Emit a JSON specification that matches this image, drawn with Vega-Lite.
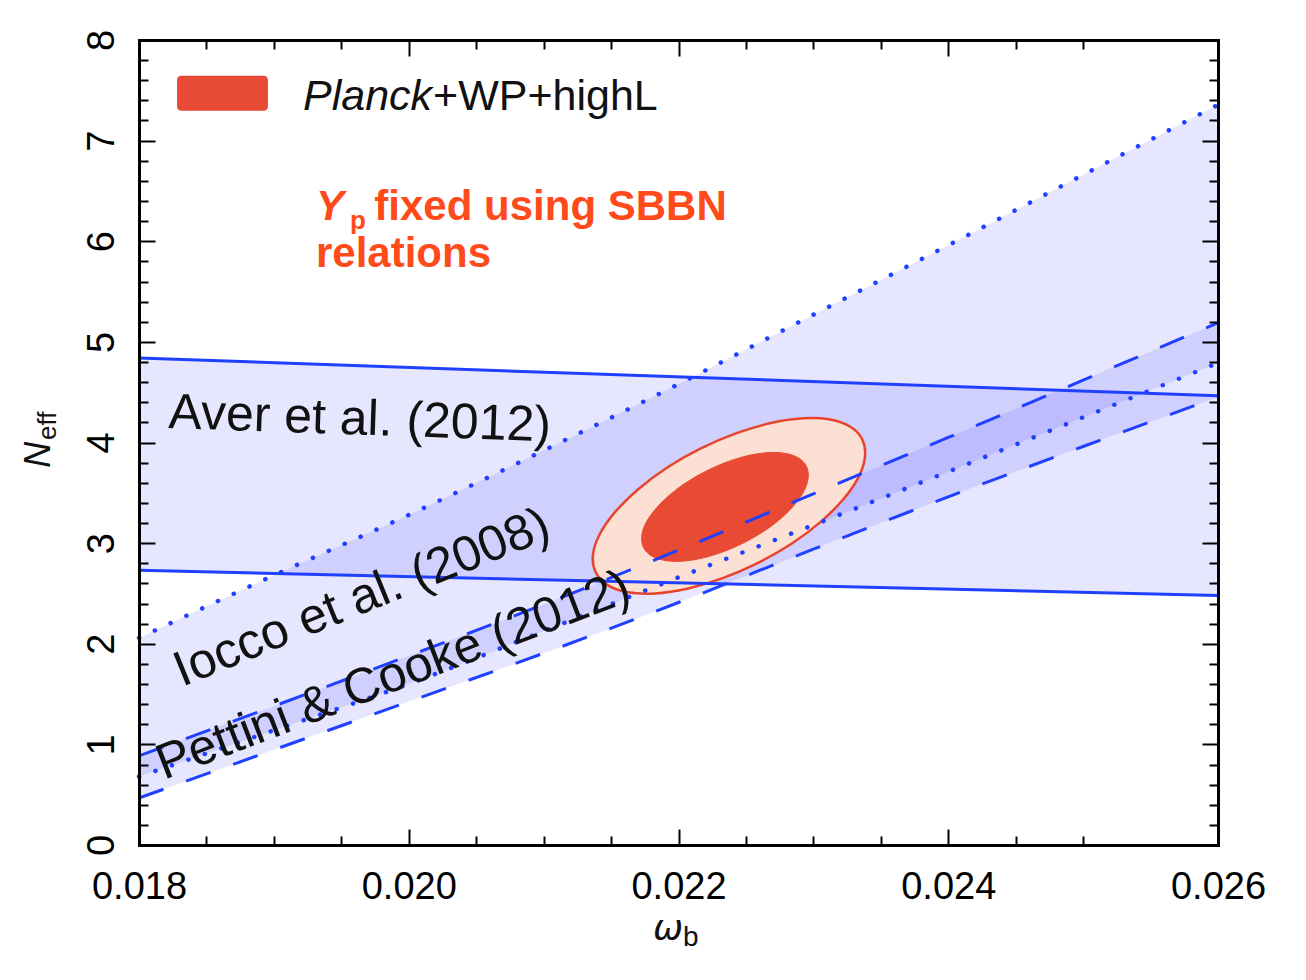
{
  "$schema": "https://vega.github.io/schema/vega-lite/v6.json",
  "width": 1079,
  "height": 805,
  "autosize": {"type": "none"},
  "padding": {"left": 139, "top": 40, "right": 88, "bottom": 135},
  "background": "white",
  "config": {"view": {"stroke": null}},
  "datasets": {
    "aver": [
      {"x": 0.018, "lo": 2.73, "hi": 4.84},
      {"x": 0.026, "lo": 2.48, "hi": 4.465}
    ],
    "iocco": [
      {"x": 0.018, "lo": 0.68, "hi": 2.058},
      {"x": 0.019, "lo": 1.14, "hi": 2.68},
      {"x": 0.020, "lo": 1.60, "hi": 3.28},
      {"x": 0.021, "lo": 2.125, "hi": 3.92},
      {"x": 0.022, "lo": 2.66, "hi": 4.58},
      {"x": 0.023, "lo": 3.18, "hi": 5.27},
      {"x": 0.024, "lo": 3.71, "hi": 5.96},
      {"x": 0.025, "lo": 4.25, "hi": 6.66},
      {"x": 0.026, "lo": 4.79, "hi": 7.356}
    ],
    "pettini": [
      {"x": 0.018, "lo": 0.467, "hi": 0.885},
      {"x": 0.019, "lo": 0.946, "hi": 1.38},
      {"x": 0.020, "lo": 1.425, "hi": 1.88},
      {"x": 0.021, "lo": 1.906, "hi": 2.39},
      {"x": 0.022, "lo": 2.41, "hi": 2.93},
      {"x": 0.023, "lo": 2.94, "hi": 3.49},
      {"x": 0.024, "lo": 3.46, "hi": 4.05},
      {"x": 0.025, "lo": 3.96, "hi": 4.62},
      {"x": 0.026, "lo": 4.453, "hi": 5.19}
    ],
    "outer": [
      {"i": 0, "x": 0.023362, "y": 4.032},
      {"i": 1, "x": 0.023383, "y": 3.862},
      {"i": 2, "x": 0.023336, "y": 3.659},
      {"i": 3, "x": 0.023222, "y": 3.436},
      {"i": 4, "x": 0.023052, "y": 3.209},
      {"i": 5, "x": 0.022835, "y": 2.991},
      {"i": 6, "x": 0.022586, "y": 2.801},
      {"i": 7, "x": 0.022323, "y": 2.649},
      {"i": 8, "x": 0.022064, "y": 2.547},
      {"i": 9, "x": 0.021826, "y": 2.500},
      {"i": 10, "x": 0.021625, "y": 2.512},
      {"i": 11, "x": 0.021475, "y": 2.583},
      {"i": 12, "x": 0.021387, "y": 2.708},
      {"i": 13, "x": 0.021365, "y": 2.878},
      {"i": 14, "x": 0.021413, "y": 3.081},
      {"i": 15, "x": 0.021526, "y": 3.303},
      {"i": 16, "x": 0.021697, "y": 3.531},
      {"i": 17, "x": 0.021914, "y": 3.749},
      {"i": 18, "x": 0.022162, "y": 3.938},
      {"i": 19, "x": 0.022425, "y": 4.090},
      {"i": 20, "x": 0.022684, "y": 4.193},
      {"i": 21, "x": 0.022923, "y": 4.240},
      {"i": 22, "x": 0.023124, "y": 4.228},
      {"i": 23, "x": 0.023274, "y": 4.156}
    ],
    "inner": [
      {"i": 0, "x": 0.022948, "y": 3.764},
      {"i": 1, "x": 0.022962, "y": 3.657},
      {"i": 2, "x": 0.022935, "y": 3.530},
      {"i": 3, "x": 0.022867, "y": 3.392},
      {"i": 4, "x": 0.022763, "y": 3.250},
      {"i": 5, "x": 0.022631, "y": 3.116},
      {"i": 6, "x": 0.022479, "y": 3.000},
      {"i": 7, "x": 0.022318, "y": 2.908},
      {"i": 8, "x": 0.022159, "y": 2.846},
      {"i": 9, "x": 0.022012, "y": 2.819},
      {"i": 10, "x": 0.021889, "y": 2.830},
      {"i": 11, "x": 0.021797, "y": 2.876},
      {"i": 12, "x": 0.021741, "y": 2.955},
      {"i": 13, "x": 0.021727, "y": 3.063},
      {"i": 14, "x": 0.021754, "y": 3.190},
      {"i": 15, "x": 0.021823, "y": 3.328},
      {"i": 16, "x": 0.021926, "y": 3.469},
      {"i": 17, "x": 0.022058, "y": 3.603},
      {"i": 18, "x": 0.022210, "y": 3.720},
      {"i": 19, "x": 0.022371, "y": 3.812},
      {"i": 20, "x": 0.022530, "y": 3.874},
      {"i": 21, "x": 0.022677, "y": 3.901},
      {"i": 22, "x": 0.022800, "y": 3.890},
      {"i": 23, "x": 0.022893, "y": 3.844}
    ]
  },
  "resolve": {"axis": {"x": "independent", "y": "independent"}},
  "layer": [
    {
      "data": {"name": "aver"},
      "mark": {"type": "area", "fill": "#3333ff", "fillOpacity": 0.12},
      "encoding": {
        "x": {"field": "x", "type": "quantitative", "scale": {"domain": [0.018, 0.026], "nice": false, "zero": false},
          "axis": {"orient": "bottom", "values": [0.018, 0.020, 0.022, 0.024, 0.026], "format": ".3f", "title": null, "grid": false,
            "domain": true, "domainColor": "#000000", "domainWidth": 3, "domainCap": "square",
            "ticks": true, "tickColor": "#000000", "tickWidth": 2, "tickSize": -16,
            "labels": true, "labelFont": "Liberation Sans", "labelFontSize": 38, "labelColor": "#000000", "labelPadding": 39,
            "labelFlush": false, "labelOverlap": false, "labelAlign": "center", "labelBaseline": "top", "zindex": 1}},
        "y": {"field": "hi", "type": "quantitative", "scale": {"domain": [0, 8], "nice": false, "zero": false},
          "axis": {"orient": "left", "values": [0, 1, 2, 3, 4, 5, 6, 7, 8], "format": "d", "title": null, "grid": false,
            "domain": true, "domainColor": "#000000", "domainWidth": 3, "domainCap": "square",
            "ticks": true, "tickColor": "#000000", "tickWidth": 2, "tickSize": -16,
            "labels": true, "labelFont": "Liberation Sans", "labelFontSize": 38, "labelColor": "#000000", "labelPadding": 42,
            "labelAngle": 270, "labelFlush": false, "labelOverlap": false, "labelAlign": "center", "labelBaseline": "alphabetic", "zindex": 1}},
        "y2": {"field": "lo"}
      }
    },
    {
      "data": {"name": "iocco"},
      "mark": {"type": "area", "fill": "#3333ff", "fillOpacity": 0.12, "interpolate": "monotone"},
      "encoding": {
        "x": {"field": "x", "type": "quantitative", "scale": {"domain": [0.018, 0.026], "nice": false, "zero": false},
          "axis": {"orient": "top", "values": [0.018, 0.020, 0.022, 0.024, 0.026], "title": null, "grid": false,
            "domain": true, "domainColor": "#000000", "domainWidth": 3, "domainCap": "square",
            "ticks": true, "tickColor": "#000000", "tickWidth": 2, "tickSize": -16, "labels": false, "zindex": 1}},
        "y": {"field": "hi", "type": "quantitative", "scale": {"domain": [0, 8], "nice": false, "zero": false},
          "axis": {"orient": "right", "values": [0, 1, 2, 3, 4, 5, 6, 7, 8], "title": null, "grid": false,
            "domain": true, "domainColor": "#000000", "domainWidth": 3, "domainCap": "square",
            "ticks": true, "tickColor": "#000000", "tickWidth": 2, "tickSize": -16, "labels": false, "zindex": 1}},
        "y2": {"field": "lo"}
      }
    },
    {
      "data": {"name": "pettini"},
      "mark": {"type": "area", "fill": "#3333ff", "fillOpacity": 0.12, "interpolate": "monotone"},
      "encoding": {
        "x": {"field": "x", "type": "quantitative", "scale": {"domain": [0.018, 0.026], "nice": false, "zero": false},
          "axis": {"orient": "bottom", "values": [0.0185, 0.019, 0.0195, 0.0205, 0.021, 0.0215, 0.0225, 0.023, 0.0235, 0.0245, 0.025], "title": null, "grid": false,
            "domain": false, "ticks": true, "tickColor": "#000000", "tickWidth": 2, "tickSize": -9, "labels": false, "zindex": 1}},
        "y": {"field": "hi", "type": "quantitative", "scale": {"domain": [0, 8], "nice": false, "zero": false},
          "axis": {"orient": "left", "values": [0.2, 0.4, 0.6, 0.8, 1.2, 1.4, 1.6, 1.8, 2.2, 2.4, 2.6, 2.8, 3.2, 3.4, 3.6, 3.8, 4.2, 4.4, 4.6, 4.8, 5.2, 5.4, 5.6, 5.8, 6.2, 6.4, 6.6, 6.8, 7.2, 7.4, 7.6, 7.8], "title": null, "grid": false,
            "domain": false, "ticks": true, "tickColor": "#000000", "tickWidth": 2, "tickSize": -9, "labels": false, "zindex": 1}},
        "y2": {"field": "lo"}
      }
    },
    {
      "data": {"name": "outer"},
      "mark": {"type": "line", "interpolate": "cardinal-closed", "fill": "#fde0d4", "stroke": "#e8442c", "strokeWidth": 2.5},
      "encoding": {
        "x": {"field": "x", "type": "quantitative", "scale": {"domain": [0.018, 0.026], "nice": false, "zero": false},
          "axis": {"orient": "top", "values": [0.0185, 0.019, 0.0195, 0.0205, 0.021, 0.0215, 0.0225, 0.023, 0.0235, 0.0245, 0.025], "title": null, "grid": false,
            "domain": false, "ticks": true, "tickColor": "#000000", "tickWidth": 2, "tickSize": -9, "labels": false, "zindex": 1}},
        "y": {"field": "y", "type": "quantitative", "scale": {"domain": [0, 8], "nice": false, "zero": false},
          "axis": {"orient": "right", "values": [0.2, 0.4, 0.6, 0.8, 1.2, 1.4, 1.6, 1.8, 2.2, 2.4, 2.6, 2.8, 3.2, 3.4, 3.6, 3.8, 4.2, 4.4, 4.6, 4.8, 5.2, 5.4, 5.6, 5.8, 6.2, 6.4, 6.6, 6.8, 7.2, 7.4, 7.6, 7.8], "title": null, "grid": false,
            "domain": false, "ticks": true, "tickColor": "#000000", "tickWidth": 2, "tickSize": -9, "labels": false, "zindex": 1}},
        "order": {"field": "i", "type": "quantitative"}
      }
    },
    {
      "data": {"name": "inner"},
      "mark": {"type": "line", "interpolate": "cardinal-closed", "fill": "#e84a33", "stroke": "#e84a33", "strokeWidth": 1},
      "encoding": {
        "x": {"field": "x", "type": "quantitative", "scale": {"domain": [0.018, 0.026], "nice": false, "zero": false}, "axis": null},
        "y": {"field": "y", "type": "quantitative", "scale": {"domain": [0, 8], "nice": false, "zero": false}, "axis": null},
        "order": {"field": "i", "type": "quantitative"}
      }
    },
    {
      "data": {"name": "aver"},
      "transform": [{"fold": ["lo", "hi"], "as": ["edge", "v"]}],
      "mark": {"type": "line", "stroke": "#2040ff", "strokeWidth": 3},
      "encoding": {
        "x": {"field": "x", "type": "quantitative", "scale": {"domain": [0.018, 0.026], "nice": false, "zero": false}, "axis": null},
        "y": {"field": "v", "type": "quantitative", "scale": {"domain": [0, 8], "nice": false, "zero": false}, "axis": null},
        "detail": {"field": "edge"}
      }
    },
    {
      "data": {"name": "iocco"},
      "transform": [{"fold": ["lo", "hi"], "as": ["edge", "v"]}],
      "mark": {"type": "line", "stroke": "#2040ff", "strokeWidth": 4.5, "strokeCap": "round", "strokeDash": [0.1, 17.3], "interpolate": "monotone"},
      "encoding": {
        "x": {"field": "x", "type": "quantitative", "scale": {"domain": [0.018, 0.026], "nice": false, "zero": false}, "axis": null},
        "y": {"field": "v", "type": "quantitative", "scale": {"domain": [0, 8], "nice": false, "zero": false}, "axis": null},
        "detail": {"field": "edge"}
      }
    },
    {
      "data": {"name": "pettini"},
      "transform": [{"fold": ["lo", "hi"], "as": ["edge", "v"]}],
      "mark": {"type": "line", "stroke": "#2040ff", "strokeWidth": 3, "strokeDash": [26, 24], "interpolate": "monotone"},
      "encoding": {
        "x": {"field": "x", "type": "quantitative", "scale": {"domain": [0.018, 0.026], "nice": false, "zero": false}, "axis": null},
        "y": {"field": "v", "type": "quantitative", "scale": {"domain": [0, 8], "nice": false, "zero": false}, "axis": null},
        "detail": {"field": "edge"}
      }
    },
    {
      "data": {"values": [{"x": 0.018282, "x2": 0.018956, "y": 7.296, "y2": 7.644}]},
      "mark": {"type": "rect", "fill": "#e84b35", "cornerRadius": 4},
      "encoding": {
        "x": {"field": "x", "type": "quantitative", "scale": {"domain": [0.018, 0.026], "nice": false, "zero": false}, "axis": null},
        "x2": {"field": "x2"},
        "y": {"field": "y", "type": "quantitative", "scale": {"domain": [0, 8], "nice": false, "zero": false}, "axis": null},
        "y2": {"field": "y2"}
      }
    },
    {
      "data": {"values": [
        {"x": 0.019216, "y": 7.30, "t": "Planck"}
      ]},
      "mark": {"type": "text", "font": "Liberation Sans", "fontSize": 43, "fontStyle": "italic", "align": "left", "baseline": "alphabetic", "color": "#111111"},
      "encoding": {
        "x": {"field": "x", "type": "quantitative", "scale": {"domain": [0.018, 0.026], "nice": false, "zero": false}, "axis": null},
        "y": {"field": "y", "type": "quantitative", "scale": {"domain": [0, 8], "nice": false, "zero": false}, "axis": null},
        "text": {"field": "t"}
      }
    },
    {
      "data": {"values": [
        {"x": 0.02018, "y": 7.30, "t": "+WP+highL"}
      ]},
      "mark": {"type": "text", "font": "Liberation Sans", "fontSize": 43, "align": "left", "baseline": "alphabetic", "color": "#111111"},
      "encoding": {
        "x": {"field": "x", "type": "quantitative", "scale": {"domain": [0.018, 0.026], "nice": false, "zero": false}, "axis": null},
        "y": {"field": "y", "type": "quantitative", "scale": {"domain": [0, 8], "nice": false, "zero": false}, "axis": null},
        "text": {"field": "t"}
      }
    },
    {
      "data": {"values": [{"x": 0.019312, "y": 6.213, "t": "Y"}]},
      "mark": {"type": "text", "font": "Liberation Sans", "fontSize": 42, "fontWeight": "bold", "fontStyle": "italic", "align": "left", "baseline": "alphabetic", "color": "#ff4a1a"},
      "encoding": {
        "x": {"field": "x", "type": "quantitative", "scale": {"domain": [0.018, 0.026], "nice": false, "zero": false}, "axis": null},
        "y": {"field": "y", "type": "quantitative", "scale": {"domain": [0, 8], "nice": false, "zero": false}, "axis": null},
        "text": {"field": "t"}
      }
    },
    {
      "data": {"values": [{"x": 0.019565, "y": 6.12, "t": "p"}]},
      "mark": {"type": "text", "font": "Liberation Sans", "fontSize": 26, "fontWeight": "bold", "align": "left", "baseline": "alphabetic", "color": "#ff4a1a"},
      "encoding": {
        "x": {"field": "x", "type": "quantitative", "scale": {"domain": [0.018, 0.026], "nice": false, "zero": false}, "axis": null},
        "y": {"field": "y", "type": "quantitative", "scale": {"domain": [0, 8], "nice": false, "zero": false}, "axis": null},
        "text": {"field": "t"}
      }
    },
    {
      "data": {"values": [
        {"x": 0.019745, "y": 6.213, "t": "fixed using SBBN"},
        {"x": 0.019312, "y": 5.746, "t": "relations"}
      ]},
      "mark": {"type": "text", "font": "Liberation Sans", "fontSize": 42, "fontWeight": "bold", "align": "left", "baseline": "alphabetic", "color": "#ff4a1a"},
      "encoding": {
        "x": {"field": "x", "type": "quantitative", "scale": {"domain": [0.018, 0.026], "nice": false, "zero": false}, "axis": null},
        "y": {"field": "y", "type": "quantitative", "scale": {"domain": [0, 8], "nice": false, "zero": false}, "axis": null},
        "text": {"field": "t"}
      }
    },
    {
      "data": {"values": [{"x": 0.018215, "y": 4.145, "t": "Aver et al.  (2012)"}]},
      "mark": {"type": "text", "font": "Liberation Sans", "fontSize": 50, "angle": 2, "align": "left", "baseline": "alphabetic", "color": "#111111"},
      "encoding": {
        "x": {"field": "x", "type": "quantitative", "scale": {"domain": [0.018, 0.026], "nice": false, "zero": false}, "axis": null},
        "y": {"field": "y", "type": "quantitative", "scale": {"domain": [0, 8], "nice": false, "zero": false}, "axis": null},
        "text": {"field": "t"}
      }
    },
    {
      "data": {"values": [{"x": 0.018319, "y": 1.571, "t": "Iocco et al.  (2008)"}]},
      "mark": {"type": "text", "font": "Liberation Sans", "fontSize": 50, "angle": 338, "align": "left", "baseline": "alphabetic", "color": "#111111"},
      "encoding": {
        "x": {"field": "x", "type": "quantitative", "scale": {"domain": [0.018, 0.026], "nice": false, "zero": false}, "axis": null},
        "y": {"field": "y", "type": "quantitative", "scale": {"domain": [0, 8], "nice": false, "zero": false}, "axis": null},
        "text": {"field": "t"}
      }
    },
    {
      "data": {"values": [{"x": 0.018185, "y": 0.646, "t": "Pettini & Cooke (2012)"}]},
      "mark": {"type": "text", "font": "Liberation Sans", "fontSize": 50, "angle": 339, "align": "left", "baseline": "alphabetic", "color": "#111111"},
      "encoding": {
        "x": {"field": "x", "type": "quantitative", "scale": {"domain": [0.018, 0.026], "nice": false, "zero": false}, "axis": null},
        "y": {"field": "y", "type": "quantitative", "scale": {"domain": [0, 8], "nice": false, "zero": false}, "axis": null},
        "text": {"field": "t"}
      }
    },
    {
      "data": {"values": [{"x": 0.021922, "y": -0.944, "t": "ω"}]},
      "mark": {"type": "text", "font": "DejaVu Sans", "fontSize": 36, "fontStyle": "italic", "align": "center", "baseline": "alphabetic", "color": "#111111"},
      "encoding": {
        "x": {"field": "x", "type": "quantitative", "scale": {"domain": [0.018, 0.026], "nice": false, "zero": false}, "axis": null},
        "y": {"field": "y", "type": "quantitative", "scale": {"domain": [0, 8], "nice": false, "zero": false}, "axis": null},
        "text": {"field": "t"}
      }
    },
    {
      "data": {"values": [{"x": 0.022033, "y": -1.004, "t": "b"}]},
      "mark": {"type": "text", "font": "Liberation Sans", "fontSize": 28, "align": "left", "baseline": "alphabetic", "color": "#111111"},
      "encoding": {
        "x": {"field": "x", "type": "quantitative", "scale": {"domain": [0.018, 0.026], "nice": false, "zero": false}, "axis": null},
        "y": {"field": "y", "type": "quantitative", "scale": {"domain": [0, 8], "nice": false, "zero": false}, "axis": null},
        "text": {"field": "t"}
      }
    },
    {
      "data": {"values": [{"x": 0.01734, "y": 3.748, "t": "N"}]},
      "mark": {"type": "text", "font": "Liberation Sans", "fontSize": 36, "fontStyle": "italic", "angle": 270, "align": "left", "baseline": "alphabetic", "color": "#111111"},
      "encoding": {
        "x": {"field": "x", "type": "quantitative", "scale": {"domain": [0.018, 0.026], "nice": false, "zero": false}, "axis": null},
        "y": {"field": "y", "type": "quantitative", "scale": {"domain": [0, 8], "nice": false, "zero": false}, "axis": null},
        "text": {"field": "t"}
      }
    },
    {
      "data": {"values": [{"x": 0.017385, "y": 4.026, "t": "eff"}]},
      "mark": {"type": "text", "font": "Liberation Sans", "fontSize": 26, "angle": 270, "align": "left", "baseline": "alphabetic", "color": "#111111"},
      "encoding": {
        "x": {"field": "x", "type": "quantitative", "scale": {"domain": [0.018, 0.026], "nice": false, "zero": false}, "axis": null},
        "y": {"field": "y", "type": "quantitative", "scale": {"domain": [0, 8], "nice": false, "zero": false}, "axis": null},
        "text": {"field": "t"}
      }
    }
  ]
}
